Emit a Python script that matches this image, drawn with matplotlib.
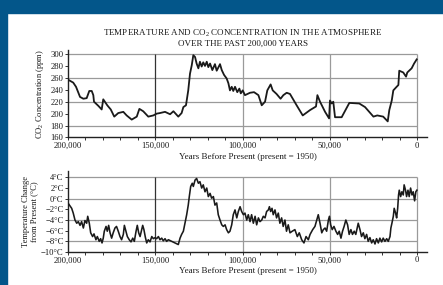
"""Temperatura y CO2 en la atmosfera durante los ultimos 200.000 anos.

Dos paneles apilados (CO2 arriba, cambio de temperatura abajo) sobre un
marco blanco con franjas azules arriba y a la izquierda.
"""

import matplotlib

matplotlib.use("Agg")
import matplotlib.pyplot as plt
from matplotlib.patches import Rectangle

# --- datos (anos antes del presente) ----------------------------------------
co2_years = [
    200000, 197000, 195400, 193100, 191200, 189300, 187800, 186400, 185500,
    185100, 182600, 180700, 179800, 177500, 175500, 173500, 171200, 168300,
    166400, 163500, 160600, 159100, 156900, 154000, 151100, 149200, 147300,
    144400, 141500, 139600, 136800, 134900, 133900, 132400, 131100, 130100,
    129100, 128200, 127200, 126300, 125300, 124400, 123400, 122500, 121500,
    120500, 119600, 118600, 117300, 115800, 114800, 112900, 111900, 110600,
    109100, 108100, 107200, 106200, 105300, 104300, 103000, 101800, 101000,
    99900, 98600, 95700, 93400, 90900, 89000, 87100, 85800, 83900, 82700,
    80500, 78200, 76600, 74700, 72800, 69000, 65500, 61300, 57900, 57100,
    55600, 52700, 50400, 49900, 48900, 48000, 47000, 43200, 38800, 33100,
    29800, 25000, 22800, 19400, 16800, 15900, 14500, 13600, 11700, 10700,
    10200, 7900, 6300, 5600, 3100, 1700, 200,
]
co2_ppm = [
    257, 252, 245, 228, 225, 226, 238, 238, 231,
    220, 213, 207, 224, 214, 207, 195, 201, 203,
    197, 190, 195, 208, 204, 195, 197, 200, 201,
    203, 199, 204, 195, 201, 211, 214, 239, 267,
    281, 298, 295, 284, 276, 287, 279, 286, 280,
    287, 278, 284, 273, 283, 272, 283, 273, 265,
    259, 251, 239, 245, 238, 245, 236, 242, 234,
    239, 231, 235, 236, 231, 214, 220, 239, 249, 239,
    233, 225, 231, 235, 233, 214, 197, 206, 212, 231,
    220, 203, 192, 222, 217, 220, 194, 194, 218, 217,
    211, 195, 197, 195, 187, 206, 222, 239, 245, 248,
    272, 269, 262, 269, 276, 284, 291,
]

temp_years = [
    199600, 197900, 197000, 196000, 195000, 194100, 193100, 192200, 191200,
    190300, 189300, 188700, 187800, 187000, 185900, 185100, 184000, 183200,
    182100, 181300, 180500, 179800, 179200, 178200, 177500, 176700, 175900,
    175000, 174100, 173100, 172200, 171200, 170200, 169300, 168300, 167700,
    166800, 166000, 164900, 163900, 162900, 162000, 161000, 160300, 159500,
    158700, 157800, 157200, 156500, 155700, 154900, 154000, 153000, 152000,
    151100, 150100, 149200, 148200, 147300, 146300, 145400, 144400, 143500,
    142500, 140600, 138700, 136800, 135800, 134900, 133900, 133000, 132000,
    131100, 130500, 129700, 128800, 128200, 127200, 126300, 125300, 124400,
    123400, 122500, 121500, 120500, 119600, 118600, 117700, 116700, 115800,
    114800, 113900, 112900, 111900, 111000, 110000, 109100, 108100, 107200,
    106200, 105300, 104300, 103300, 102400, 101400, 100500, 99500, 98600,
    97600, 96700, 95700, 94800, 93800, 92800, 91900, 90900, 90000, 89000,
    88100, 87100, 86200, 85200, 84600, 83900, 83100, 82400, 81400, 80500,
    79500, 78600, 77600, 76700, 75700, 74800, 73800, 72800, 71500, 70000,
    68600, 67500, 66100, 64800, 63600, 62300, 61300, 59800, 58500, 57100,
    56600, 55600, 54600, 53700, 52700, 51800, 50800, 50200, 49500, 48600,
    47600, 46500, 45500, 44600, 43600, 42700, 41800, 40800, 39800, 38900,
    37900, 37000, 36000, 35100, 33700, 32700, 31800, 30800, 29900, 28900,
    28000, 27000, 26000, 25100, 24100, 23200, 22200, 21300, 20300, 19400,
    18400, 17400, 16500, 15500, 15000, 14400, 13600, 13100, 12300, 11700,
    11100, 10600, 10200, 9400, 8700, 7900, 7400, 6600, 6000, 5200, 4500,
    3700, 2900, 2200, 1400, 700, 100,
]
temp_change = [
    -1.0, -1.8, -2.7, -4.0, -4.6, -4.3, -5.0, -4.3, -5.5,
    -4.1, -4.6, -3.3, -4.6, -6.4, -7.1, -6.6, -7.7, -7.1,
    -8.0, -7.5, -8.3, -7.4, -6.1, -5.2, -6.1, -5.0, -6.4,
    -7.4, -6.4, -5.5, -5.2, -6.1, -7.1, -7.7, -6.7, -5.0,
    -6.1, -7.1, -7.7, -8.1, -7.4, -8.0, -6.1, -5.0, -6.4,
    -7.1, -5.8, -5.0, -5.8, -7.2, -8.3, -7.7, -8.1, -7.1,
    -7.5, -7.3, -7.5, -7.1, -7.7, -7.4, -7.9, -7.5, -8.0,
    -7.7, -8.0, -8.3, -8.6, -7.4, -6.7, -6.1, -4.6, -3.0,
    -1.2, 0.4, 2.3, 2.9, 2.3, 3.5, 3.8, 2.9, 3.2,
    2.0, 2.6, 1.3, 2.0, 0.4, 1.0, 0.1, 0.4, -1.2,
    -0.8, -3.0, -4.0, -4.9, -5.2, -4.9, -5.8, -6.4, -6.1,
    -4.9, -3.0, -2.1, -3.6, -2.4, -1.5, -2.4, -3.0, -2.7,
    -4.0, -3.0, -4.3, -3.0, -4.6, -3.3, -4.9, -3.6, -4.3, -4.0,
    -3.3, -3.6, -2.4, -2.1, -1.5, -2.4, -1.8, -3.0, -2.1, -3.6,
    -2.7, -4.6, -3.6, -5.2, -4.0, -6.1, -4.9, -6.4, -6.1, -5.8,
    -7.1, -6.4, -7.7, -8.3, -7.1, -7.7, -6.7, -5.8, -5.2, -3.6,
    -3.0, -4.6, -6.4, -5.8, -5.5, -6.1, -4.0, -3.3, -4.9, -5.8,
    -5.2, -6.1, -6.7, -6.1, -7.4, -6.1, -5.2, -4.0, -4.9, -6.7,
    -5.8, -6.7, -6.1, -6.7, -4.6, -5.8, -7.1, -6.4, -7.5, -6.7,
    -8.0, -7.3, -8.3, -7.7, -8.5, -7.5, -8.3, -7.4, -8.1, -7.4,
    -8.0, -7.5, -8.0, -7.1, -5.5, -4.6, -3.3, -1.8, -2.7, -3.6,
    -1.8, 0.7, 1.6, 0.4, 1.3, 0.7, 2.6, 1.6, 0.4, 1.6, 0.4,
    2.0, 0.7, 1.3, -0.4, 1.3, 1.6,
]

x_major = [200000, 150000, 100000, 50000, 0]
x_labels = ["200,000", "150,000", "100,000", "50,000", "0"]
co2_ticks = [160, 180, 200, 220, 240, 260, 280, 300]
co2_grid = [180, 220, 260, 300]
temp_ticks = [-10, -8, -6, -4, -2, 0, 2, 4]
temp_grid = [-8, -4, 0, 4]

TITLE = "TEMPERATURE AND CO$_\\mathregular{2}$ CONCENTRATION IN THE ATMOSPHERE\nOVER THE PAST 200,000 YEARS"
XLABEL = "Years Before Present (present = 1950)"

BLUE = "#03568a"
LINE = "#1a1a1a"
GRID = "#9a9a9a"
TEXT = "#1a1a1a"

plt.rcParams["font.family"] = "Liberation Serif"
plt.rcParams["mathtext.fontset"] = "custom"
plt.rcParams["mathtext.rm"] = "Liberation Serif"
plt.rcParams["text.color"] = TEXT
plt.rcParams["axes.labelcolor"] = TEXT
plt.rcParams["xtick.labelcolor"] = TEXT
plt.rcParams["ytick.labelcolor"] = TEXT


def style_axis(ax, ymin, ymax, ytop, grid_y, yticks, ylabels):
    ax.set_xlim(200000, -5700)
    ax.set_ylim(ymin, ytop)
    for side in ("top", "right"):
        ax.spines[side].set_visible(False)
    for side in ("left", "bottom"):
        ax.spines[side].set_linewidth(1.0)
        ax.spines[side].set_color("#222222")

    ax.hlines(grid_y, 200000, 0, color=GRID, linewidth=0.9, zorder=1)
    ax.vlines([100000, 50000, 0], ymin, ymax, color=GRID, linewidth=0.9, zorder=1)
    ax.vlines([150000], ymin, ymax, color="#333333", linewidth=0.9, zorder=1)

    ax.set_xticks(x_major)
    ax.set_xticklabels(x_labels)
    ax.set_xticks(range(190000, 0, -10000), minor=True)
    ax.set_yticks(yticks)
    ax.set_yticklabels(ylabels)
    ax.tick_params(axis="both", which="both", direction="out", length=2.2,
                   width=0.7, color="#333333", labelsize=6.2, pad=1)
    ax.set_xlabel(XLABEL, fontsize=6.5, labelpad=2)


def main() -> None:
    fig = plt.figure(figsize=(4.43, 2.85), dpi=100)
    fig.patch.set_facecolor("white")

    # franjas azules del marco
    fig.patches.append(Rectangle((0, 1 - 13 / 285), 1, 13 / 285,
                                 transform=fig.transFigure, color=BLUE, zorder=0))
    fig.patches.append(Rectangle((0, 0), 7 / 443, 1,
                                 transform=fig.transFigure, color=BLUE, zorder=0))

    fig.text(243 / 443, 1 - 38 / 285, TITLE, ha="center", va="center",
             fontsize=6.5, linespacing=1.15)

    left, width = 68 / 443, 359 / 443

    ax1 = fig.add_axes([left, 1 - 137.5 / 285, width, 87.5 / 285])
    style_axis(ax1, 160, 300, 306.7, co2_grid, co2_ticks,
               [str(v) for v in co2_ticks])
    ax1.plot(co2_years, co2_ppm, color=LINE, linewidth=1.3, zorder=3)
    ax1.set_ylabel("CO$_\\mathregular{2}$ Concentration (ppm)", fontsize=6.1,
                   labelpad=3)

    ax2 = fig.add_axes([left, 1 - 252 / 285, width, 81 / 285])
    style_axis(ax2, -10, 4, 5.2, temp_grid, temp_ticks,
               [f"{v}°C".replace("-", "\u2212") for v in temp_ticks])
    ax2.plot(temp_years, temp_change, color=LINE, linewidth=1.15, zorder=3)
    ax2.set_ylabel("Temperature Change\nfrom Present (°C)", fontsize=6.1,
                   labelpad=2, linespacing=1.0)

    fig.savefig("out.png", dpi=100)
    plt.close(fig)


if __name__ == "__main__":
    main()
